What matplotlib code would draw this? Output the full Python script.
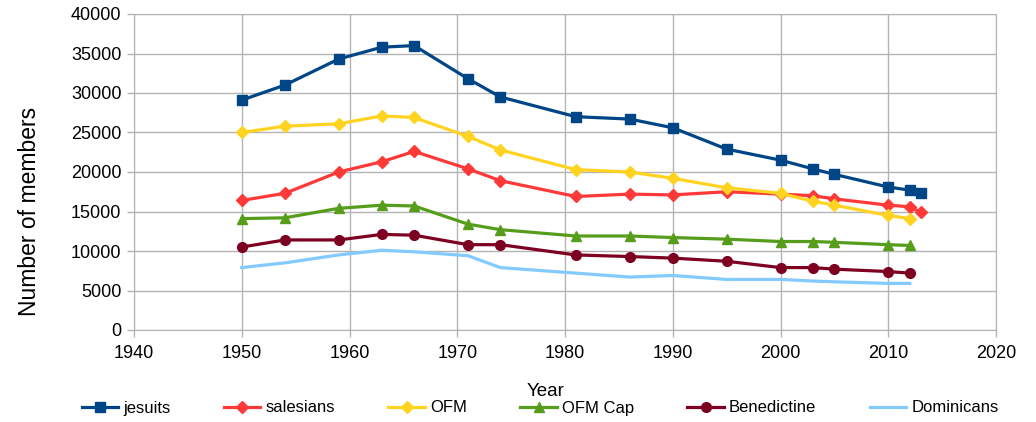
import matplotlib
matplotlib.use("Agg")
import matplotlib.pyplot as plt

plt.rcParams['font.family'] = ['Liberation Sans', 'DejaVu Sans']

years = [1950, 1954, 1959, 1963, 1966, 1971, 1974, 1981, 1986, 1990, 1995, 2000, 2003, 2005, 2010, 2012]
jesuits_years = years + [2013]
jesuits = [29100, 31000, 34300, 35800, 36000, 31800, 29500, 27000, 26700, 25600, 22900, 21500, 20400, 19700, 18100, 17700, 17400]
salesians_years = years + [2013]
salesians = [16400, 17300, 20000, 21300, 22600, 20400, 18900, 16900, 17200, 17100, 17500, 17200, 17000, 16600, 15800, 15600, 14900]
ofm = [25000, 25800, 26100, 27100, 26900, 24500, 22800, 20300, 20000, 19200, 18000, 17300, 16300, 15800, 14500, 14100]
ofm_cap = [14100, 14200, 15400, 15800, 15700, 13400, 12700, 11900, 11900, 11700, 11500, 11200, 11200, 11100, 10800, 10700]
benedictine = [10500, 11400, 11400, 12100, 12000, 10800, 10800, 9500, 9300, 9100, 8700, 7900, 7900, 7700, 7400, 7200]
dominicans = [7900, 8500, 9500, 10100, 9900, 9400, 7900, 7200, 6700, 6900, 6400, 6400, 6200, 6100, 5900, 5900]

fig = plt.figure(figsize=(10.36, 4.22), dpi=100)
ax = fig.add_axes([134 / 1036, 1 - 330 / 422, 862 / 1036, 316 / 422])

lw = 2.3
ax.plot(jesuits_years, jesuits, color='#004586', marker='s', markersize=7.5, linewidth=lw, label='jesuits')
ax.plot(salesians_years, salesians, color='#ff3838', marker='D', markersize=6, linewidth=lw, label='salesians')
ax.plot(years, ofm, color='#ffd320', marker='D', markersize=6, linewidth=lw, label='OFM')
ax.plot(years, ofm_cap, color='#579d1c', marker='^', markersize=7.5, linewidth=lw, label='OFM Cap')
ax.plot(years, benedictine, color='#7e0021', marker='o', markersize=7, linewidth=lw, label='Benedictine')
ax.plot(years, dominicans, color='#83caff', linewidth=lw, label='Dominicans')

ax.set_xlim(1940, 2020)
ax.set_ylim(0, 40000)
ax.set_xticks(range(1940, 2021, 10))
ax.set_yticks(range(0, 40001, 5000))
ax.tick_params(labelsize=13, length=5, width=1, color='#b3b3b3', pad=4)
ax.tick_params(axis='x', pad=6)
ax.grid(True, color='#b3b3b3', linewidth=1)
ax.set_axisbelow(True)
for s in ax.spines.values():
    s.set_color('#b3b3b3')

ax.set_ylabel('Number of members', fontsize=16.5)
ax.yaxis.set_label_coords(30 / 1036, 0.5, transform=fig.transFigure)
ax.yaxis.label.set_va('center')
fig.text(546 / 1036, 1 - 392 / 422, 'Year', fontsize=13.5, ha='center', va='center')

ax.legend(loc='center', bbox_to_anchor=(540 / 1036, 1 - 408 / 422), bbox_transform=fig.transFigure,
          ncol=6, frameon=False, fontsize=12, columnspacing=3.2, handlelength=2.2,
          handletextpad=0.3, borderpad=0, borderaxespad=0)

fig.savefig('out.png', dpi=100)
